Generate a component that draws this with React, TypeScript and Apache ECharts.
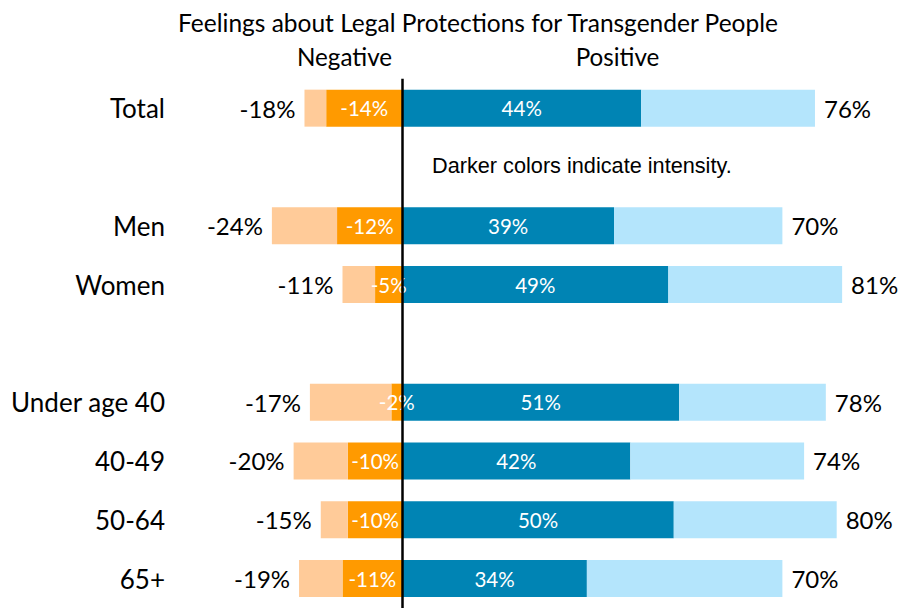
import React, { useEffect, useRef } from "react";
import * as echarts from "echarts";

const categories = ["Total", " ", "Men", "Women", "  ", "Under age 40", "40-49", "50-64", "65+"];
const negStrong = [14, null, 12, 5, null, 2, 10, 10, 11];
const negTotal = [18, null, 24, 11, null, 17, 20, 15, 19];
const posStrong = [44, null, 39, 49, null, 51, 42, 50, 34];
const posTotal = [76, null, 70, 81, null, 78, 74, 80, 70];

const titleText = "Feelings about Legal Protections for Transgender People";
const negLabel = "Negative";
const posLabel = "Positive";
const noteText = "Darker colors indicate intensity.";

const FONT = "Lato, 'Noto Sans', sans-serif";

export default function App() {
  const ref = useRef<HTMLDivElement>(null);
  useEffect(() => {
    if (!ref.current) return;
    const chart = echarts.init(ref.current, undefined, { renderer: "svg" });
    const darkOrange = negStrong.map((v) => (v == null ? null : -v));
    const lightOrange = negTotal.map((t, i) => (t == null ? null : -(t - (negStrong[i] as number))));
    const darkBlue = posStrong.map((v) => v);
    const lightBlue = posTotal.map((t, i) => (t == null ? null : t - (posStrong[i] as number)));

    const darkLabel = {
      show: true,
      position: "inside",
      color: "#ffffff",
      fontFamily: FONT,
      fontSize: 20.5,
    };

    chart.setOption({
      animation: false,
      grid: { left: 185, right: 10, top: 78.75, bottom: -2.6, containLabel: false },
      xAxis: {
        type: "value",
        min: -40,
        max: 90,
        show: false,
      },
      yAxis: {
        type: "category",
        data: categories,
        inverse: true,
        axisLine: { show: false },
        axisTick: { show: false },
        splitLine: { show: false },
        axisLabel: { color: "#000", fontFamily: FONT, fontSize: 26, margin: 20 },
      },
      graphic: [
        {
          type: "text",
          x: 478,
          y: 22,
          style: { text: titleText, fontFamily: FONT, fontSize: 24.5, fill: "#000", textAlign: "center", textVerticalAlign: "middle" },
        },
        {
          type: "text",
          x: 344.5,
          y: 56,
          style: { text: negLabel, fontFamily: FONT, fontSize: 24.2, fill: "#000", textAlign: "center", textVerticalAlign: "middle" },
        },
        {
          type: "text",
          x: 617.5,
          y: 56,
          style: { text: posLabel, fontFamily: FONT, fontSize: 24.2, fill: "#000", textAlign: "center", textVerticalAlign: "middle" },
        },
        {
          type: "text",
          x: 432,
          y: 165,
          style: { text: noteText, fontFamily: "'Liberation Sans', Arial, sans-serif", fontSize: 21.7, fill: "#000", textAlign: "left", textVerticalAlign: "middle" },
        },
      ],
      series: [
        {
          type: "bar",
          stack: "s",
          barWidth: 37,
          data: darkOrange,
          itemStyle: { color: "#FF9A00" },
          label: { ...darkLabel, formatter: (p: any) => `${p.value}%` },
          markLine: {
            silent: true,
            symbol: "none",
            label: { show: false },
            lineStyle: { color: "#000", width: 2.5, type: "solid" },
            data: [{ xAxis: 0 }],
            z: 10,
          },
          z: 2,
        },
        {
          type: "bar",
          stack: "s",
          barWidth: 37,
          data: lightOrange,
          itemStyle: { color: "#FFCB99" },
          label: {
            show: true,
            position: "left",
            distance: 9,
            color: "#000",
            fontFamily: FONT,
            fontSize: 24,
            formatter: (p: any) => `-${negTotal[p.dataIndex]}%`,
          },
        },
        {
          type: "bar",
          stack: "s",
          barWidth: 37,
          data: darkBlue,
          itemStyle: { color: "#0084B4" },
          label: { ...darkLabel, formatter: (p: any) => `${p.value}%` },
        },
        {
          type: "bar",
          stack: "s",
          barWidth: 37,
          data: lightBlue,
          itemStyle: { color: "#B4E5FC" },
          label: {
            show: true,
            position: "right",
            distance: 9,
            color: "#000",
            fontFamily: FONT,
            fontSize: 24,
            formatter: (p: any) => `${posTotal[p.dataIndex]}%`,
          },
        },
      ],
    });
    return () => chart.dispose();
  }, []);
  return <div ref={ref} style={{ position: "absolute", left: 0, top: 0, width: 901, height: 608 }} />;
}
